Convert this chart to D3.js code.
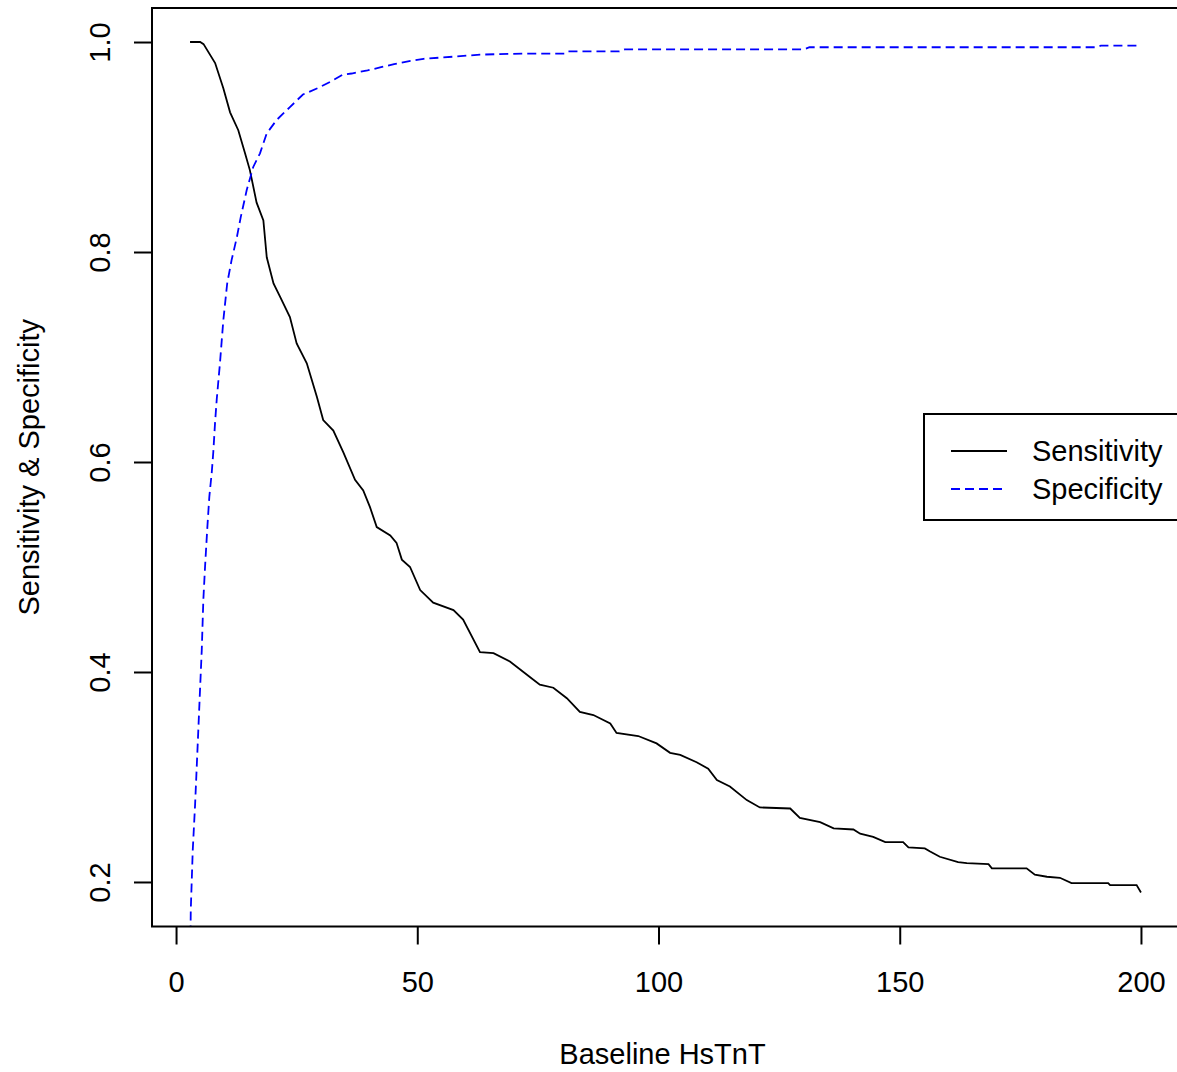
<!DOCTYPE html>
<html>
<head>
<meta charset="utf-8">
<script src="https://cdn.jsdelivr.net/npm/d3@7"></script>
<style>
  body { margin: 0; background: #fff; }
  svg { display: block; font-family: "Liberation Sans", Arial, sans-serif; }
</style>
</head>
<body>
<svg id="chart" width="1177" height="1072"></svg>
<script>
// Sensitivity / specificity against baseline HsTnT cut-off

const sensX = [2.9, 5.0, 5.7, 8.1, 9.8, 11.2, 12.9, 14.3, 15.3, 16.7, 18.1, 18.8, 20.2, 21.6, 23.6, 25.0, 27.1, 29.2, 30.5, 32.6,
  34.7, 37.1, 38.8, 40.2, 41.6, 44.4, 45.7, 46.8, 48.5, 50.6, 53.3, 57.5, 59.5, 63.0, 65.8, 69.2, 73.4, 75.4, 78.2, 81.0,
  83.7, 86.5, 90.0, 91.3, 95.8, 99.6, 102.4, 104.5, 107.9, 110.3, 112.1, 114.8, 118.3, 121.0, 127.3, 129.3, 133.5, 136.3, 140.4, 141.8,
  144.5, 147.0, 150.7, 151.8, 155.2, 156.3, 158.3, 162.1, 163.9, 168.4, 169.1, 176.3, 178.0, 180.5, 183.2, 185.6, 193.2, 193.6, 199.1, 200.0];
const sensY = [1.0, 1.0, 0.998, 0.98, 0.956, 0.933, 0.916, 0.894, 0.878, 0.847, 0.830, 0.795, 0.770, 0.757, 0.738, 0.713, 0.694, 0.662, 0.640, 0.630,
  0.609, 0.583, 0.573, 0.557, 0.538, 0.530, 0.523, 0.507, 0.500, 0.478, 0.466, 0.459, 0.450, 0.419, 0.418, 0.410, 0.395, 0.388, 0.385, 0.375,
  0.362, 0.359, 0.351, 0.342, 0.339, 0.332, 0.323, 0.321, 0.314, 0.308, 0.297, 0.291, 0.278, 0.271, 0.270, 0.261, 0.257, 0.251, 0.250, 0.246,
  0.243, 0.238, 0.238, 0.233, 0.232, 0.229, 0.224, 0.219, 0.218, 0.217, 0.213, 0.213, 0.207, 0.205, 0.204, 0.199, 0.199, 0.197, 0.197, 0.19];

const specX = [3.0, 3.05, 3.46, 3.94, 4.29, 4.62, 4.97, 5.33, 5.66, 6.01, 6.49, 6.90, 7.40, 7.73, 8.08, 8.44, 9.1, 9.8, 10.6, 11.5,
  12.6, 13.4, 14.65, 16.0, 17.4, 18.8, 20.9, 23.6, 26.3, 29.8, 31.9, 34.6, 36.4, 39.7, 42.5, 45.2, 48.6, 51.3, 57.4, 63.0,
  71.9, 80.8, 81.3, 91.9, 93.0, 130.2, 131.3, 190.7, 191.7, 200.0];
const specY = [0.15, 0.173, 0.230, 0.273, 0.310, 0.345, 0.383, 0.421, 0.469, 0.50, 0.538, 0.567, 0.590, 0.610, 0.637, 0.660, 0.694, 0.735, 0.770, 0.792,
  0.814, 0.833, 0.859, 0.881, 0.894, 0.913, 0.926, 0.938, 0.950, 0.957, 0.962, 0.969, 0.970, 0.973, 0.976, 0.979, 0.982, 0.984, 0.986, 0.988,
  0.989, 0.989, 0.991, 0.991, 0.993, 0.993, 0.995, 0.995, 0.9965, 0.9965];

const xTicks = [0, 50, 100, 150, 200];
const yTicks = [0.2, 0.4, 0.6, 0.8, 1.0];
const legendLabels = ["Sensitivity", "Specificity"];

const svg = d3.select('#chart');
const plotLeft = 152, plotRight = 1179, plotTop = 8, plotBottom = 926.5;
const fontSize = 29;

// R-style 4% padding around the data range
const xr = d3.extent(sensX), yr = d3.extent(sensY);
const xpad = (xr[1] - xr[0]) * 0.04, ypad = (yr[1] - yr[0]) * 0.04;
const x = d3.scaleLinear().domain([xr[0] - xpad, xr[1] + xpad]).range([plotLeft, plotRight]);
const y = d3.scaleLinear().domain([yr[0] - ypad, yr[1] + ypad]).range([plotBottom, plotTop]);

svg.append('defs').append('clipPath').attr('id', 'plot-clip')
  .append('rect')
  .attr('x', plotLeft).attr('y', plotTop)
  .attr('width', plotRight - plotLeft).attr('height', plotBottom - plotTop);

const line = d3.line().x(d => x(d[0])).y(d => y(d[1]));
const sens = sensX.map((v, i) => [v, sensY[i]]);
const spec = specX.map((v, i) => [v, specY[i]]);

const plot = svg.append('g').attr('clip-path', 'url(#plot-clip)');
plot.append('path')
  .attr('d', line(sens))
  .attr('fill', 'none')
  .attr('stroke', '#000')
  .attr('stroke-width', 1.8);
plot.append('path')
  .attr('d', line(spec))
  .attr('fill', 'none')
  .attr('stroke', '#0000ff')
  .attr('stroke-width', 1.8)
  .attr('stroke-dasharray', '9,5');

// box
svg.append('rect')
  .attr('x', plotLeft).attr('y', plotTop)
  .attr('width', plotRight - plotLeft).attr('height', plotBottom - plotTop)
  .attr('fill', 'none')
  .attr('stroke', '#000')
  .attr('stroke-width', 2);

// x axis
const xAxis = svg.append('g')
  .attr('transform', `translate(0,${plotBottom})`)
  .call(d3.axisBottom(x).tickValues(xTicks).tickSize(18).tickPadding(27).tickFormat(d3.format('d')));
xAxis.select('.domain').remove();
xAxis.selectAll('.tick line').attr('stroke', '#000').attr('stroke-width', 2);
xAxis.selectAll('.tick text')
  .attr('fill', '#000')
  .attr('font-size', fontSize)
  .attr('font-family', '"Liberation Sans", Arial, sans-serif');

// y axis, labels rotated like R's las=0
const yAxis = svg.append('g')
  .attr('transform', `translate(${plotLeft},0)`)
  .call(d3.axisLeft(y).tickValues(yTicks).tickSize(18).tickFormat(d3.format('.1f')));
yAxis.select('.domain').remove();
yAxis.selectAll('.tick line').attr('stroke', '#000').attr('stroke-width', 2);
yAxis.selectAll('.tick text')
  .attr('transform', 'rotate(-90)')
  .attr('x', 0)
  .attr('y', -42)
  .attr('dy', 0)
  .attr('text-anchor', 'middle')
  .attr('fill', '#000')
  .attr('font-size', fontSize)
  .attr('font-family', '"Liberation Sans", Arial, sans-serif');

// axis titles
svg.append('text')
  .attr('x', (plotLeft + plotRight) / 2 - 3)
  .attr('y', 1064)
  .attr('text-anchor', 'middle')
  .attr('font-size', fontSize)
  .text('Baseline HsTnT');

svg.append('text')
  .attr('transform', `translate(39,${(plotTop + plotBottom) / 2}) rotate(-90)`)
  .attr('text-anchor', 'middle')
  .attr('font-size', fontSize)
  .text('Sensitivity & Specificity');

// legend
const legend = svg.append('g');
legend.append('rect')
  .attr('x', 924).attr('y', 414)
  .attr('width', 290).attr('height', 106)
  .attr('fill', '#fff')
  .attr('stroke', '#000')
  .attr('stroke-width', 2);

const legendRows = legend.selectAll('.row')
  .data(legendLabels)
  .enter()
  .append('g')
  .attr('class', 'row')
  .attr('transform', (d, i) => `translate(0,${451 + i * 38})`);
legendRows.append('line')
  .attr('x1', 951).attr('x2', 1007)
  .attr('stroke', (d, i) => i === 0 ? '#000' : '#0000ff')
  .attr('stroke-width', 1.8)
  .attr('stroke-dasharray', (d, i) => i === 0 ? null : '9,5');
legendRows.append('text')
  .attr('x', 1032)
  .attr('dy', '0.35em')
  .attr('font-size', fontSize)
  .text(d => d);
</script>
</body>
</html>
